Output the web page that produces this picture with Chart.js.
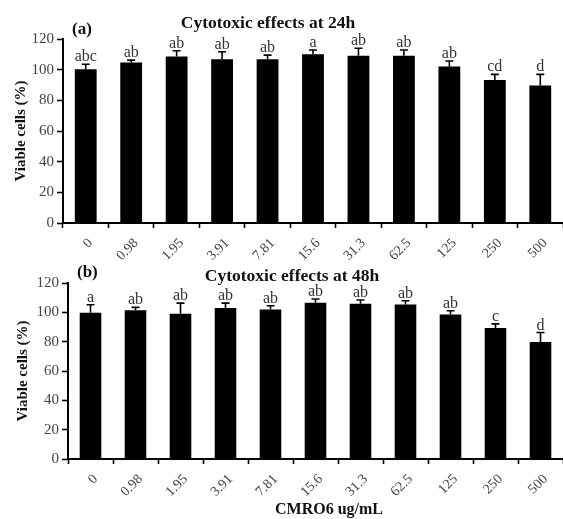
<!DOCTYPE html>
<html>
<head>
<meta charset="utf-8">
<script src="https://cdn.jsdelivr.net/npm/chart.js@4.4.1/dist/chart.umd.min.js"></script>
<style>
  body { margin: 0; background: #fff; }
  #wrap { position: relative; width: 563px; height: 519px; overflow: hidden; }
  .panel { position: absolute; left: 0; }
</style>
</head>
<body>
<div id="wrap">
  <div class="panel" style="top:0;width:563px;height:262px"><canvas id="chart24"></canvas></div>
  <div class="panel" style="top:255px;width:563px;height:264px"><canvas id="chart48"></canvas></div>
</div>
<script>
// concentrations (ug/mL)
const concentrations = ['0', '0.98', '1.95', '3.91', '7.81', '15.6', '31.3', '62.5', '125', '250', '500'];
const yTicks = [0, 20, 40, 60, 80, 100, 120];

// 24h
const viability24 = [100.2, 104.6, 108.6, 106.8, 106.8, 110.1, 109.0, 109.0, 102.0, 93.2, 89.6];
const error24 = [3.3, 1.6, 3.7, 4.9, 2.7, 2.7, 5.0, 3.8, 3.7, 3.7, 7.3];
const letters24 = ['abc', 'ab', 'ab', 'ab', 'ab', 'a', 'ab', 'ab', 'ab', 'cd', 'd'];

// 48h
const viability48 = [99.8, 101.4, 99.1, 103.0, 102.0, 106.6, 105.9, 105.4, 98.6, 89.3, 79.8];
const error48 = [5.4, 2.0, 7.2, 3.3, 2.5, 2.5, 2.5, 2.5, 2.5, 2.8, 6.4];
const letters48 = ['a', 'ab', 'ab', 'ab', 'ab', 'ab', 'ab', 'ab', 'ab', 'c', 'd'];

const SERIF = "'Liberation Serif', 'DejaVu Serif', serif";

// error bars + significance letters
const errorBarPlugin = {
    id: 'errorBars',
    afterDatasetsDraw(chart, args, opts) {
        const ctx = chart.ctx;
        const meta = chart.getDatasetMeta(0);
        const yScale = chart.scales.y;
        const values = chart.data.datasets[0].data;
        ctx.save();
        meta.data.forEach((bar, i) => {
            const top = yScale.getPixelForValue(values[i] + opts.errors[i]);
            const base = yScale.getPixelForValue(values[i]);
            ctx.strokeStyle = '#000';
            ctx.lineWidth = 1.6;
            ctx.beginPath();
            ctx.moveTo(bar.x, base);
            ctx.lineTo(bar.x, top);
            ctx.moveTo(bar.x - 4, top);
            ctx.lineTo(bar.x + 4, top);
            ctx.stroke();

            ctx.fillStyle = '#333';
            ctx.font = '16px ' + SERIF;
            ctx.textAlign = 'center';
            ctx.textBaseline = 'alphabetic';
            ctx.fillText(opts.letters[i], bar.x, top - 3);
        });
        ctx.restore();
    }
};

// panel label, title, x axis caption
const panelTextPlugin = {
    id: 'panelText',
    afterDraw(chart, args, opts) {
        const ctx = chart.ctx;
        const area = chart.chartArea;
        ctx.save();
        ctx.fillStyle = '#111';
        ctx.textBaseline = 'alphabetic';
        ctx.font = 'bold 17px ' + SERIF;
        ctx.textAlign = 'left';
        ctx.fillText(opts.label, area.left + opts.labelDx, area.top + opts.labelDy);
        ctx.textAlign = 'center';
        ctx.font = 'bold 17.5px ' + SERIF;
        ctx.fillText(opts.title, area.left + opts.titleDx, area.top + opts.titleDy);
        if (opts.xTitle) {
            ctx.font = 'bold 16px ' + SERIF;
            ctx.fillText(opts.xTitle, area.left + opts.xTitleDx, chart.height - 5);
        }
        ctx.restore();
    }
};

function makeChart(id, values, errors, letters, layout, text) {
    const ctx = document.getElementById(id).getContext('2d');
    return new Chart(ctx, {
        type: 'bar',
        data: {
            labels: concentrations,
            datasets: [{
                data: values,
                backgroundColor: '#000',
                borderWidth: 0,
                barPercentage: 0.48,
                categoryPercentage: 1.0
            }]
        },
        options: {
            responsive: true,
            maintainAspectRatio: false,
            animation: false,
            layout: { padding: { top: layout.top, right: 0, left: 0, bottom: 0 } },
            plugins: {
                legend: { display: false },
                tooltip: { enabled: false },
                errorBars: { errors: errors, letters: letters },
                panelText: text
            },
            scales: {
                x: {
                    grid: { offset: true, drawOnChartArea: false, tickLength: 5, tickColor: '#000', tickWidth: 1.6 },
                    border: { color: '#000', width: 2 },
                    ticks: {
                        color: '#444',
                        font: { family: SERIF, size: 14 },
                        minRotation: 45,
                        maxRotation: 45,
                        padding: 7,
                        labelOffset: 5,
                        autoSkip: false
                    },
                    afterFit(scale) { scale.height = layout.xHeight; }
                },
                y: {
                    min: 0,
                    max: 120,
                    afterBuildTicks(scale) { scale.ticks = yTicks.map(v => ({ value: v })); },
                    grid: { drawOnChartArea: false, tickLength: 6, tickColor: '#000', tickWidth: 1.6 },
                    border: { color: '#000', width: 2 },
                    ticks: { color: '#444', font: { family: SERIF, size: 15 }, padding: 3 },
                    title: {
                        display: true,
                        text: 'Viable cells (%)',
                        color: '#111',
                        font: { family: SERIF, size: 15, weight: 'bold' },
                        padding: { top: layout.yTitlePad, bottom: 0 }
                    },
                    afterFit(scale) { scale.width = layout.yWidth; }
                }
            }
        },
        plugins: [errorBarPlugin, panelTextPlugin]
    });
}

makeChart('chart24', viability24, error24, letters24,
    { top: 39, xHeight: 39, yWidth: 63, yTitlePad: 12 },
    { label: '(a)', labelDx: 9, labelDy: -5, title: 'Cytotoxic effects at 24h', titleDx: 205, titleDy: -11 });

makeChart('chart48', viability48, error48, letters48,
    { top: 28, xHeight: 60, yWidth: 68, yTitlePad: 14 },
    { label: '(b)', labelDx: 9, labelDy: -6, title: 'Cytotoxic effects at 48h', titleDx: 224, titleDy: -2,
      xTitle: 'CMRO6 ug/mL', xTitleDx: 261 });
</script>
</body>
</html>
